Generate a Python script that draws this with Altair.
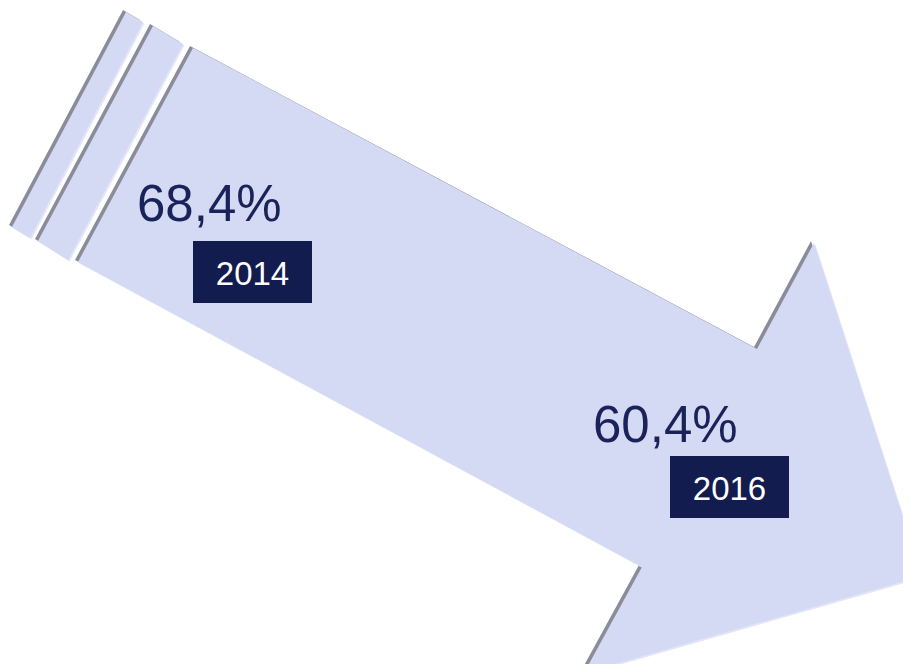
import altair as alt
import pandas as pd

# ---- data ----
# arrow outline (screen-like coordinates, y grows downwards)
arrow_x = [193, 757, 814, 922, 584, 642, 78]
arrow_y = [48, 349, 243, 576, 673, 567, 262]
strip1_x = [126, 143, 30, 12]
strip1_y = [12, 22, 238, 227]
strip2_x = [153, 183, 68, 38]
strip2_y = [26, 44, 260, 241]

values = ["68,4%", "60,4%"]
years = ["2014", "2016"]

# label placement
value_x = [137, 593]
value_y = [221, 442]
box_x1 = [193, 670]
box_x2 = [312, 789]
box_y1 = [241, 456]
box_y2 = [303, 518]
year_y = [285, 500]

rows = []
for name, xs, ys in [("arrow", arrow_x, arrow_y), ("s1", strip1_x, strip1_y), ("s2", strip2_x, strip2_y)]:
    for i, (px, py) in enumerate(zip(xs + xs[:1], ys + ys[:1])):
        rows.append({"shape": name, "i": i, "x": px, "y": py})
shapes = pd.DataFrame(rows)

labels = pd.DataFrame({
    "value": values, "year": years,
    "vx": value_x, "vy": value_y,
    "bx1": box_x1, "bx2": box_x2, "by1": box_y1, "by2": box_y2,
    "yy": year_y,
    "cx": [(a + b) / 2 for a, b in zip(box_x1, box_x2)],
})

W, H = 895, 656
xs = alt.Scale(domain=[8, 8 + W], nice=False, zero=False)
ys = alt.Scale(domain=[8, 8 + H], nice=False, zero=False, reverse=True)

def poly(color, dx, dy):
    return alt.Chart(shapes).mark_line(
        filled=True, color=color, strokeWidth=0, xOffset=dx, yOffset=dy
    ).encode(
        x=alt.X("x:Q", scale=xs, axis=None),
        y=alt.Y("y:Q", scale=ys, axis=None),
        detail="shape:N",
        order="i:Q",
    )

shadow = poly("#8a8d99", -3, -2)
highlight = poly("#e3e6f8", 1.5, 1.5)
body = poly("#d4d9f4", 0, 0)

base = alt.Chart(labels)
boxes = base.mark_rect(color="#131c4f").encode(
    x=alt.X("bx1:Q", scale=xs, axis=None), x2="bx2:Q",
    y=alt.Y("by1:Q", scale=ys, axis=None), y2="by2:Q",
)
vtext = base.mark_text(
    align="left", baseline="alphabetic", font="Liberation Sans", fontSize=51, color="#1a2359"
).encode(
    x=alt.X("vx:Q", scale=xs, axis=None),
    y=alt.Y("vy:Q", scale=ys, axis=None),
    text="value:N",
)
ytext = base.mark_text(
    align="center", baseline="alphabetic", font="Liberation Sans", fontSize=33, color="white"
).encode(
    x=alt.X("cx:Q", scale=xs, axis=None),
    y=alt.Y("yy:Q", scale=ys, axis=None),
    text="year:N",
)

chart = alt.layer(shadow, highlight, body, boxes, vtext, ytext).properties(
    width=W, height=H, padding=0, autosize=alt.AutoSizeParams(type="none")
).configure_view(stroke=None)

chart.save("out.html", embed_options={"renderer": "svg", "actions": False})
